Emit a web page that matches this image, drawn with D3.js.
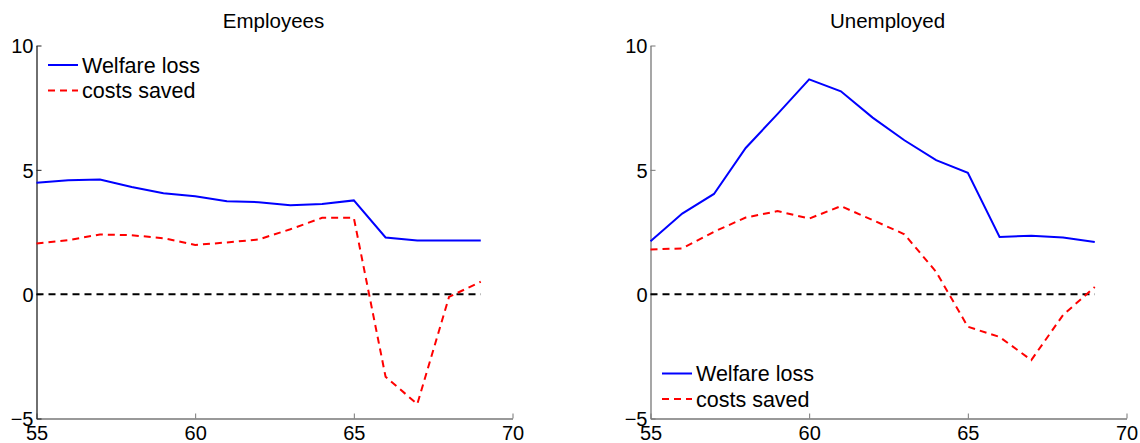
<!DOCTYPE html>
<html>
<head>
<meta charset="utf-8">
<script src="https://cdn.jsdelivr.net/npm/d3@7"></script>
<style>
  html, body { margin: 0; padding: 0; background: #fff; }
  svg { display: block; font-family: "Liberation Sans", Arial, Helvetica, sans-serif; }
</style>
</head>
<body>
<svg id="chart" width="1140" height="443"></svg>
<script>
// ---- data ----
const ages = [55, 56, 57, 58, 59, 60, 61, 62, 63, 64, 65, 66, 67, 68, 69];
const employeesWelfareLoss = [4.48, 4.58, 4.61, 4.31, 4.06, 3.94, 3.74, 3.70, 3.58, 3.63, 3.77, 2.28, 2.16, 2.16, 2.16];
const employeesCostsSaved = [2.04, 2.17, 2.40, 2.37, 2.25, 1.98, 2.08, 2.20, 2.61, 3.07, 3.07, -3.32, -4.42, -0.11, 0.50];
const unemployedWelfareLoss = [2.13, 3.24, 4.03, 5.88, 7.24, 8.64, 8.16, 7.10, 6.19, 5.39, 4.88, 2.30, 2.35, 2.28, 2.10];
const unemployedCostsSaved = [1.80, 1.84, 2.51, 3.08, 3.34, 3.04, 3.54, 2.98, 2.41, 0.90, -1.31, -1.72, -2.65, -0.84, 0.29];
const panelTitles = ["Employees", "Unemployed"];
const legendLabels = ["Welfare loss", "costs saved"];
const xTicks = [55, 60, 65, 70];
const yTicks = [-5, 0, 5, 10];
const xDomain = [55, 70];
const yDomain = [-5, 10];

const panels = [
  { title: panelTitles[0], wl: employeesWelfareLoss, cs: employeesCostsSaved, left: 36.5, yAxisColor: "#222", legendTop: true },
  { title: panelTitles[1], wl: unemployedWelfareLoss, cs: unemployedCostsSaved, left: 650.5, yAxisColor: "#777", legendTop: false }
];

const svg = d3.select("#chart");
const plotW = 476, plotTop = 45.5, plotBottom = 418.5;
const FS = 20;

panels.forEach(p => {
  const x = d3.scaleLinear().domain(xDomain).range([p.left, p.left + plotW]);
  const y = d3.scaleLinear().domain(yDomain).range([plotBottom, plotTop]);
  const g = svg.append("g");

  // title
  g.append("text")
    .attr("x", (x.range()[0] + x.range()[1]) / 2 - 1)
    .attr("y", 28)
    .attr("text-anchor", "middle")
    .attr("font-size", 20.5)
    .attr("fill", "#000")
    .text(p.title);

  // x axis
  const xa = g.append("g")
    .attr("transform", `translate(0,${plotBottom})`)
    .call(d3.axisBottom(x).tickValues(xTicks).tickSizeInner(-5).tickSizeOuter(0).tickPadding(7));
  xa.select(".domain").attr("stroke", "#777").attr("stroke-width", 1.3);
  xa.selectAll(".tick line").attr("stroke", "#777");
  xa.selectAll(".tick text").attr("font-size", FS).attr("fill", "#000").attr("font-family", "Liberation Sans, Arial, sans-serif");

  // y axis
  const ya = g.append("g")
    .attr("transform", `translate(${p.left},0)`)
    .call(d3.axisLeft(y).tickValues(yTicks).tickSizeInner(-5).tickSizeOuter(0).tickPadding(3)
      .tickFormat(d => d < 0 ? "\u2212" + Math.abs(d) : String(d)));
  ya.select(".domain").attr("stroke", p.yAxisColor).attr("stroke-width", 1.3);
  ya.selectAll(".tick line").attr("stroke", p.yAxisColor);
  ya.selectAll(".tick text").attr("font-size", FS).attr("fill", "#000").attr("dy", "0.36em").attr("font-family", "Liberation Sans, Arial, sans-serif");

  // zero line
  g.append("line")
    .attr("x1", x(ages[0])).attr("x2", x(ages[ages.length - 1]))
    .attr("y1", y(0)).attr("y2", y(0))
    .attr("stroke", "#000").attr("stroke-width", 2)
    .attr("stroke-dasharray", "7,5");

  const line = d3.line().x((d, i) => x(ages[i])).y(d => y(d));

  g.append("path").datum(p.cs)
    .attr("d", line).attr("fill", "none")
    .attr("stroke", "#ff0000").attr("stroke-width", 2)
    .attr("stroke-dasharray", "7,5");

  g.append("path").datum(p.wl)
    .attr("d", line).attr("fill", "none")
    .attr("stroke", "#0000ff").attr("stroke-width", 2);

  // legend
  const ly = p.legendTop ? 65 : 373.5;
  const lx = p.left + 11.5;
  const leg = g.append("g");
  [["#0000ff", null], ["#ff0000", "7,5"]].forEach((s, i) => {
    const yy = ly + i * 25.5;
    leg.append("line")
      .attr("x1", lx).attr("x2", lx + 30)
      .attr("y1", yy).attr("y2", yy)
      .attr("stroke", s[0]).attr("stroke-width", 2)
      .attr("stroke-dasharray", s[1]);
    leg.append("text")
      .attr("x", lx + 34).attr("y", yy + 7.5)
      .attr("font-size", 21.5).attr("fill", "#000")
      .text(legendLabels[i]);
  });
});
</script>
</body>
</html>
